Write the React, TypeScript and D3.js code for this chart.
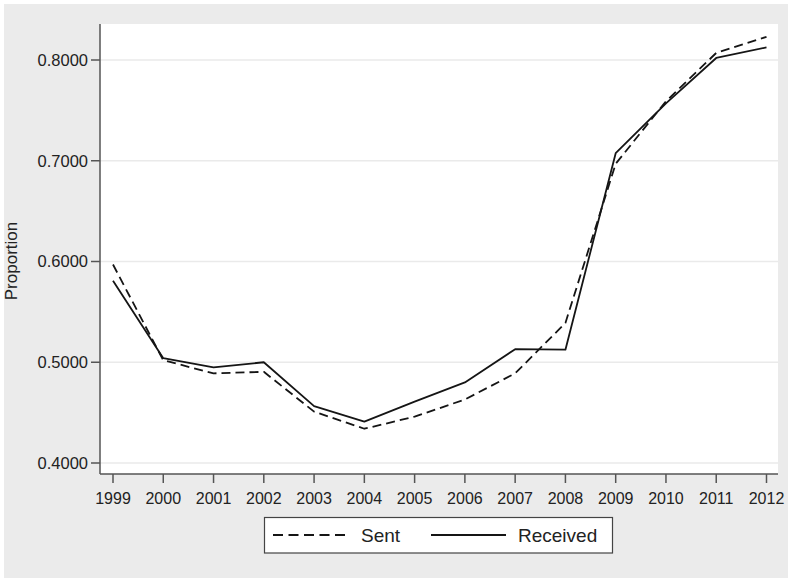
import React from 'react';
import * as d3 from 'd3';

const years = [1999, 2000, 2001, 2002, 2003, 2004, 2005, 2006, 2007, 2008, 2009, 2010, 2011, 2012];
const sent = [0.597, 0.502, 0.489, 0.4905, 0.451, 0.434, 0.446, 0.463, 0.489, 0.539, 0.697, 0.759, 0.807, 0.823];
const received = [0.581, 0.504, 0.495, 0.5, 0.4565, 0.441, 0.461, 0.48, 0.513, 0.5125, 0.7075, 0.757, 0.802, 0.8125];
const yTicks = [0.4, 0.5, 0.6, 0.7, 0.8];

const W = 788;
const H = 578;
const font = 'Arial, "Liberation Sans", Helvetica, sans-serif';

const App = () => {
  // plot region (white panel)
  const plot = { left: 100, top: 24, right: 778, bottom: 474 };

  const x = d3.scaleLinear().domain([1999, 2012]).range([113, 766.5]);
  const y = d3.scaleLinear().domain([0.4, 0.8]).range([463, 60]);

  const line = d3.line<number>()
    .x((d, i) => x(years[i]))
    .y(d => y(d));

  return (
    <svg width={W} height={H} style={{ position: 'absolute', left: 0, top: 0 }} fontFamily={font}>
      <rect x={0} y={0} width={W} height={H} fill="#ffffff" />
      <rect x={4} y={4} width={W - 4} height={H - 4} fill="#ebebeb" />
      <rect x={plot.left} y={plot.top} width={plot.right - plot.left} height={plot.bottom - plot.top} fill="#ffffff" />

      {/* gridlines */}
      {yTicks.map(t => (
        <line key={'g' + t} x1={plot.left} x2={plot.right} y1={y(t)} y2={y(t)} stroke="#eaeaea" strokeWidth={1.5} />
      ))}

      {/* series */}
      <path d={line(received) || ''} fill="none" stroke="#151515" strokeWidth={1.8} strokeLinejoin="round" />
      <path d={line(sent) || ''} fill="none" stroke="#151515" strokeWidth={1.8} strokeDasharray="9,5" strokeLinejoin="round" />

      {/* y axis */}
      <line x1={plot.left} x2={plot.left} y1={plot.top} y2={plot.bottom} stroke="#555" strokeWidth={1.5} />
      {yTicks.map(t => (
        <g key={'y' + t}>
          <line x1={plot.left - 9} x2={plot.left} y1={y(t)} y2={y(t)} stroke="#555" strokeWidth={1.5} />
          <text x={88} y={y(t)} dy="0.35em" textAnchor="end" fontSize={16.5} fill="#222">
            {d3.format('.4f')(t)}
          </text>
        </g>
      ))}
      <text transform={`translate(17,261) rotate(-90)`} textAnchor="middle" fontSize={17} fill="#222">
        Proportion
      </text>

      {/* x axis */}
      <line x1={plot.left} x2={plot.right} y1={plot.bottom} y2={plot.bottom} stroke="#555" strokeWidth={1.5} />
      {years.map(yr => (
        <g key={'x' + yr}>
          <line x1={x(yr)} x2={x(yr)} y1={plot.bottom} y2={plot.bottom + 9} stroke="#555" strokeWidth={1.5} />
          <text x={x(yr)} y={498} dy="0.35em" textAnchor="middle" fontSize={16} fill="#222">
            {yr}
          </text>
        </g>
      ))}

      {/* legend */}
      <rect x={264.5} y={517.5} width={348} height={35.5} fill="#ffffff" stroke="#444" strokeWidth={1.2} />
      <line x1={273} x2={349} y1={535} y2={535} stroke="#151515" strokeWidth={1.8} strokeDasharray="10,5.5" />
      <text x={361} y={535} dy="0.35em" fontSize={19} fill="#222">Sent</text>
      <line x1={431} x2={506} y1={535} y2={535} stroke="#151515" strokeWidth={1.8} />
      <text x={518} y={535} dy="0.35em" fontSize={19} fill="#222">Received</text>
    </svg>
  );
};

export default App;
